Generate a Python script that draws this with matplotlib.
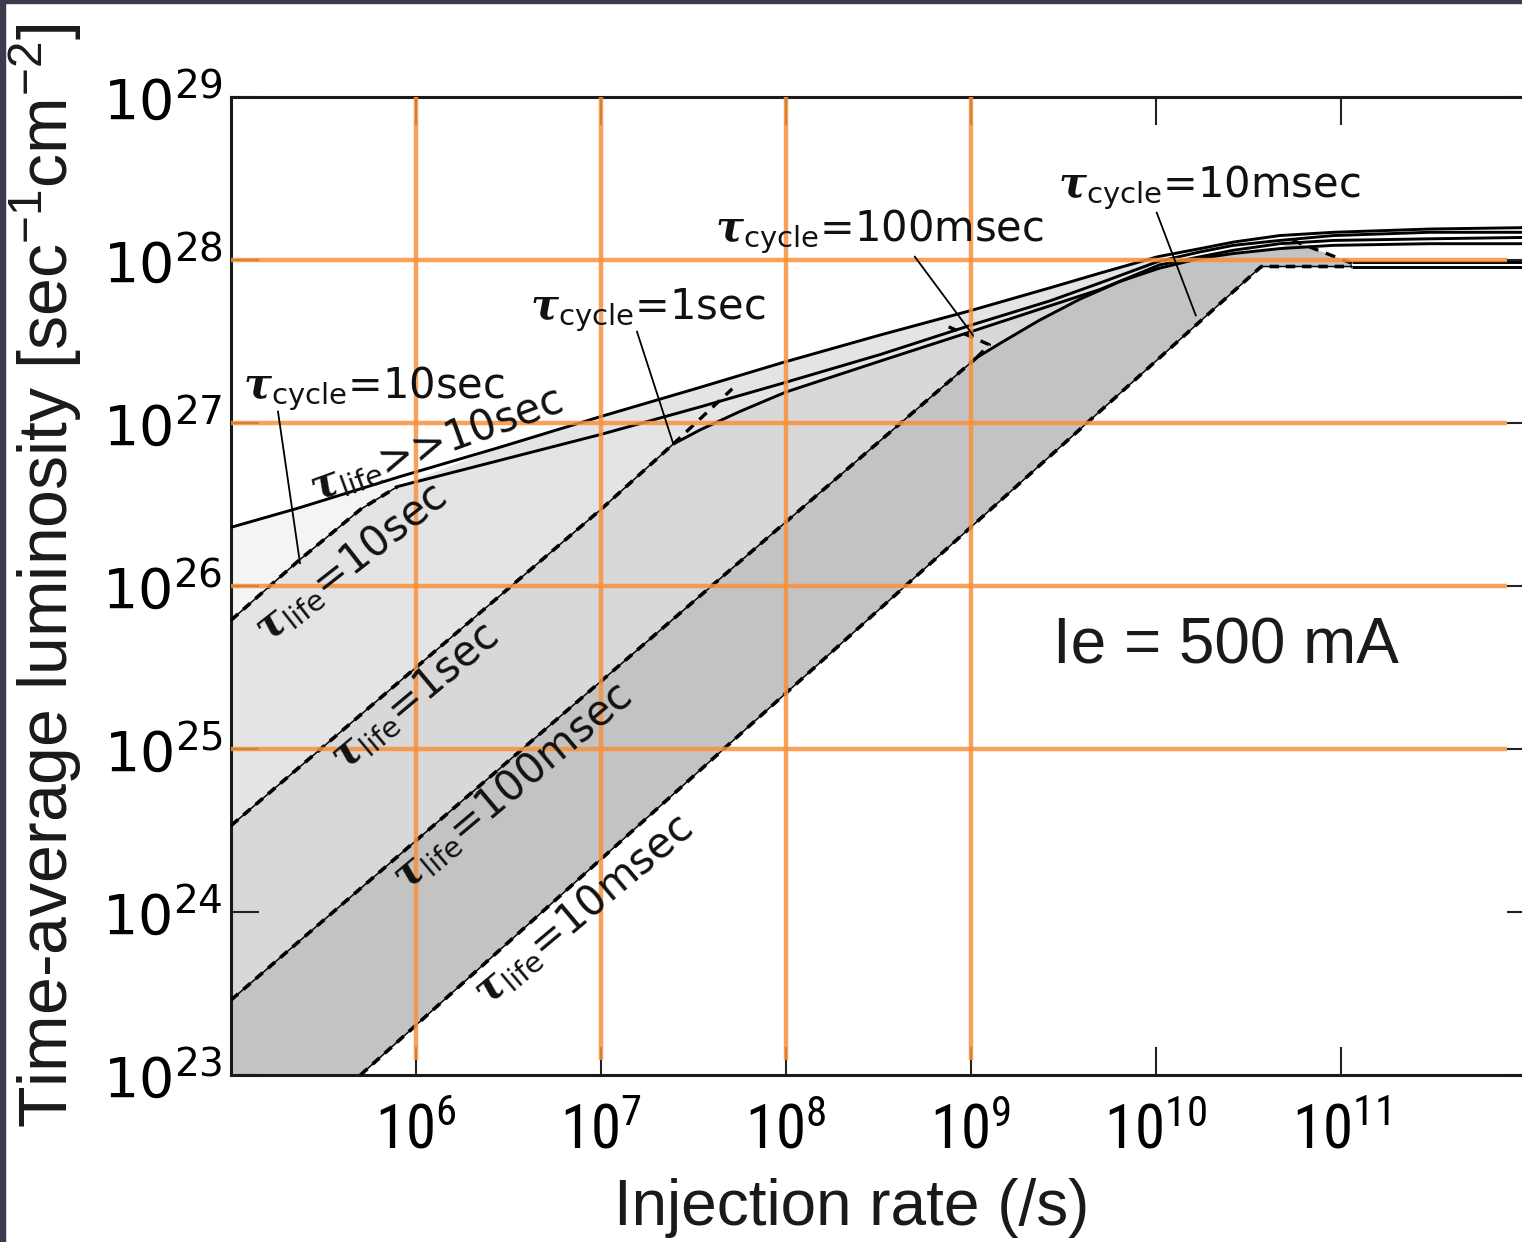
import numpy as np
import matplotlib
matplotlib.use('Agg')
import matplotlib.pyplot as plt
from matplotlib import font_manager
from matplotlib.patches import Rectangle

# ---------------- data (log10 injection rate [/s], log10 luminosity [sec^-1 cm^-2]) ----------------
# tau_life dashed lines
life10s_logR = [5.00, 5.37, 5.70, 5.90]
life10s_logL = [25.79, 26.16, 26.47, 26.61]
life1s_logR = [5.00, 6.00, 7.00, 7.39]
life1s_logL = [24.53, 25.50, 26.47, 26.87]
life100ms_logR = [5.00, 9.03]
life100ms_logL = [23.46, 27.40]
life10ms_logR = [5.70, 10.57, 11.06]
life10ms_logL = [23.00, 27.96, 27.96]

# solid envelopes
top_logR = [5.00, 5.37, 5.91, 6.45, 7.00, 7.54, 7.98, 8.51, 9.00, 9.43, 9.70, 10.01, 10.24, 10.42, 10.67, 10.96, 11.48, 12.08]
top_logL = [26.36, 26.48, 26.67, 26.85, 27.04, 27.22, 27.37, 27.54, 27.69, 27.83, 27.92, 28.02, 28.07, 28.11, 28.15, 28.17, 28.19, 28.20]
env2_logR = [5.90, 6.45, 7.00, 7.54, 7.97, 8.51, 9.00, 9.43, 9.70, 10.01, 10.24, 10.42, 10.67, 10.96, 11.48, 12.08]
env2_logL = [26.61, 26.77, 26.93, 27.10, 27.24, 27.42, 27.60, 27.75, 27.86, 27.99, 28.05, 28.09, 28.12, 28.15, 28.17, 28.17]
env3_logR = [7.39, 7.54, 7.75, 8.00, 8.51, 9.00, 9.43, 9.70, 10.02, 10.24, 10.42, 10.67, 10.96, 11.48, 12.08]
env3_logL = [26.87, 26.96, 27.07, 27.19, 27.38, 27.56, 27.72, 27.82, 27.97, 28.02, 28.06, 28.10, 28.12, 28.13, 28.14]
env4_logR = [9.03, 9.16, 9.37, 9.59, 9.81, 10.02, 10.24, 10.42, 10.67, 10.96, 11.48, 12.08]
env4_logL = [27.40, 27.49, 27.63, 27.76, 27.87, 27.95, 28.01, 28.04, 28.07, 28.09, 28.10, 28.10]

# dashed branches (tau_cycle transitions)
br1s_logR = [7.39, 7.71]
br1s_logL = [26.87, 27.21]
br100ms_logR = [9.03, 9.10, 8.88]
br100ms_logL = [27.40, 27.48, 27.59]
br10ms_logR = [11.06, 10.74]
br10ms_logL = [27.98, 28.12]
plateau_logR = [11.06, 12.08]
plateau_a_logL = [27.96, 27.96]
plateau_b_logL = [27.99, 27.99]

xtick_exp = [6, 7, 8, 9, 10, 11]
ytick_exp = [23, 24, 25, 26, 27, 28, 29]
grid_x_exp = [6, 7, 8, 9]
grid_y_exp = [25, 26, 27, 28]

# ---------------- fonts ----------------
fl = font_manager.fontManager.ttflist
names = {f.name for f in fl}
if 'Liberation Sans Narrow' in names:
    xt_font = dict(family='Liberation Sans Narrow', stretch='normal', size=46)
elif 'Roboto Condensed' in names:
    xt_font = dict(family='Roboto Condensed', stretch='normal', size=44)
elif any(f.name == 'DejaVu Sans' and f.stretch == 'condensed' for f in fl):
    xt_font = dict(family='DejaVu Sans', stretch='condensed', size=42)
else:
    xt_font = dict(family='Liberation Sans', stretch='normal', size=42)

plt.rcParams['mathtext.fontset'] = 'custom'
plt.rcParams['mathtext.rm'] = 'DejaVu Sans'
plt.rcParams['mathtext.it'] = 'DejaVu Serif:italic:bold'
plt.rcParams['mathtext.bf'] = 'DejaVu Sans:bold'
plt.rcParams['font.family'] = ['Liberation Sans', 'DejaVu Sans']

W, H = 1522, 1242
fig = plt.figure(figsize=(W / 100, H / 100), dpi=100)
fig.patch.set_facecolor('white')
ax = fig.add_axes([231 / W, 1 - 1075 / H, (1535 - 231) / W, (1075 - 97) / H])
ax.set_xscale('log')
ax.set_yscale('log')
ax.set_xlim(1e5, 10 ** 12.05)
ax.set_ylim(1e23, 1e29)

P = lambda a: 10 ** np.asarray(a, dtype=float)


def poly(*parts):
    xs = np.concatenate([np.asarray(p[0], float) for p in parts])
    ys = np.concatenate([np.asarray(p[1], float) for p in parts])
    return 10 ** xs, 10 ** ys


tR, tL = np.array(top_logR), np.array(top_logL)
e3R, e3L = np.array(env3_logR), np.array(env3_logL)
e4R, e4L = np.array(env4_logR), np.array(env4_logL)

# region A: between top envelope and tau_life=10 s line
m = tR <= 5.91
xa, ya = poly((tR[m], tL[m]), (life10s_logR[::-1], life10s_logL[::-1]))
ax.fill(xa, ya, color='#f4f4f4', lw=0, zorder=1)
# region B
m2 = (tR > 5.91) & (tR <= 10.01)
m3 = e3R <= 10.02
xb, yb = poly((life10s_logR, life10s_logL), (tR[m2], tL[m2]),
              (e3R[m3][::-1], e3L[m3][::-1]), (life1s_logR[::-1], life1s_logL[::-1]))
ax.fill(xb, yb, color='#e4e4e4', lw=0, zorder=1)
# region C
m4 = e4R <= 10.02
xc, yc = poly((life1s_logR, life1s_logL), (e3R[m3], e3L[m3]),
              (e4R[m4][::-1], e4L[m4][::-1]), (life100ms_logR[::-1], life100ms_logL[::-1]))
ax.fill(xc, yc, color='#d8d8d8', lw=0, zorder=1)
# region D
m5 = e4R <= 10.67
xd, yd = poly((life100ms_logR, life100ms_logL), (e4R[m5], e4L[m5]),
              (br10ms_logR[::-1], br10ms_logL[::-1]),
              (life10ms_logR[::-1], life10ms_logL[::-1]), ([5.00], [23.00]))
ax.fill(xd, yd, color='#c3c3c3', lw=0, zorder=1)

# solid envelopes
for r, l in [(top_logR, top_logL), (env2_logR, env2_logL), (env3_logR, env3_logL), (env4_logR, env4_logL),
             (plateau_logR, plateau_a_logL), (plateau_logR, plateau_b_logL)]:
    ax.plot(P(r), P(l), color='black', lw=2.1, zorder=3, solid_capstyle='butt', solid_joinstyle='round')

# dashed tau_life lines (thin line + bold dashes)
for r, l in [(life10s_logR, life10s_logL), (life1s_logR, life1s_logL),
             (life100ms_logR, life100ms_logL), (life10ms_logR, life10ms_logL)]:
    ax.plot(P(r), P(l), color='black', lw=1.1, zorder=3)
    ax.plot(P(r), P(l), color='black', lw=2.6, ls=(0, (2.6, 1.9)), zorder=3)
for r, l in [(br1s_logR, br1s_logL), (br100ms_logR, br100ms_logL), (br10ms_logR, br10ms_logL)]:
    ax.plot(P(r), P(l), color='black', lw=2.4, ls=(0, (3.0, 2.4)), zorder=3)

# orange guide lines
orange = '#f7913a'
ax.vlines(P(grid_x_exp), 10 ** 23.09, 1e29, colors=orange, lw=3.2, alpha=0.85, zorder=4)
ax.hlines(P(grid_y_exp), 1e5, 10 ** 11.9, colors=orange, lw=3.2, alpha=0.85, zorder=4)

# annotations
lab = dict(fontfamily='DejaVu Sans', fontsize=30, color='#111111', zorder=6)
ax.text(10 ** 5.065, 10 ** 27.21, r'$\tau_{\mathrm{cycle}}$=10sec', ha='left', va='center', **lab)
ax.text(10 ** 6.616, 10 ** 27.69, r'$\tau_{\mathrm{cycle}}$=1sec', ha='left', va='center', **lab)
ax.text(10 ** 7.616, 10 ** 28.17, r'$\tau_{\mathrm{cycle}}$=100msec', ha='left', va='center', **lab)
ax.text(10 ** 9.47, 10 ** 28.44, r'$\tau_{\mathrm{cycle}}$=10msec', ha='left', va='center', **lab)

rot = dict(ha='center', va='center', rotation_mode='anchor', **lab)
ax.text(10 ** 6.11, 10 ** 26.87, r'$\tau_{\mathrm{life}}$>>10sec', rotation=20, **rot)
ax.text(10 ** 5.643, 10 ** 26.14, r'$\tau_{\mathrm{life}}$=10sec', rotation=38, **rot)
ax.text(10 ** 5.99, 10 ** 25.32, r'$\tau_{\mathrm{life}}$=1sec', rotation=40, **rot)
ax.text(10 ** 6.52, 10 ** 24.77, r'$\tau_{\mathrm{life}}$=100msec', rotation=40, **rot)
ax.text(10 ** 6.90, 10 ** 24.01, r'$\tau_{\mathrm{life}}$=10msec', rotation=40, **rot)

for (x0, y0, x1, y1) in [(5.254, 27.07, 5.373, 26.14), (7.195, 27.56, 7.389, 26.88),
                         (8.697, 28.02, 9.011, 27.54), (10.005, 28.29, 10.216, 27.66)]:
    ax.plot([10 ** x0, 10 ** x1], [10 ** y0, 10 ** y1], color='black', lw=1.3, zorder=5)

ax.text(10 ** 10.378, 10 ** 25.63, 'Ie = 500 mA', fontsize=46, fontfamily='Liberation Sans',
        ha='center', va='center', color='#1a1a1a', zorder=6)

# axes
ax.minorticks_off()
ax.set_xticks(P(xtick_exp))
ax.set_xticklabels([r'$\mathregular{10^{%d}}$' % k for k in xtick_exp], fontfamily=xt_font['family'],
                   fontstretch=xt_font['stretch'], fontsize=xt_font['size'])
ax.set_yticks(P(ytick_exp))
ax.set_yticklabels([r'$\mathregular{10^{%d}}$' % k for k in ytick_exp], fontfamily='DejaVu Sans', fontsize=40)
ax.tick_params(which='major', direction='in', length=20, width=1.5, top=True, right=True, color='#222222')
ax.tick_params(axis='x', pad=20)
ax.tick_params(axis='y', pad=6)
for s in ax.spines.values():
    s.set_linewidth(2.2)
    s.set_color('#1a1a1a')

ax.set_xlabel('Injection rate (/s)', fontsize=46, fontfamily='Liberation Sans', color='#1a1a1a')
ax.xaxis.set_label_coords(0.476, -0.105)
ax.set_ylabel(r'Time-average luminosity [sec$\mathregular{^{-1}}$cm$\mathregular{^{-2}}$]', fontsize=49,
              fontfamily='Liberation Sans', color='#1a1a1a')
ax.yaxis.set_label_coords(-0.113, 0.51)

# dark frame edges of the slide
fig.patches.append(Rectangle((0, 0), 5 / W, 1, transform=fig.transFigure, color='#3a3b4c', zorder=10))
fig.patches.append(Rectangle((0, 1 - 3 / H), 1, 3 / H, transform=fig.transFigure, color='#3a3b4c', zorder=10))

fig.savefig('out.png', dpi=100)
